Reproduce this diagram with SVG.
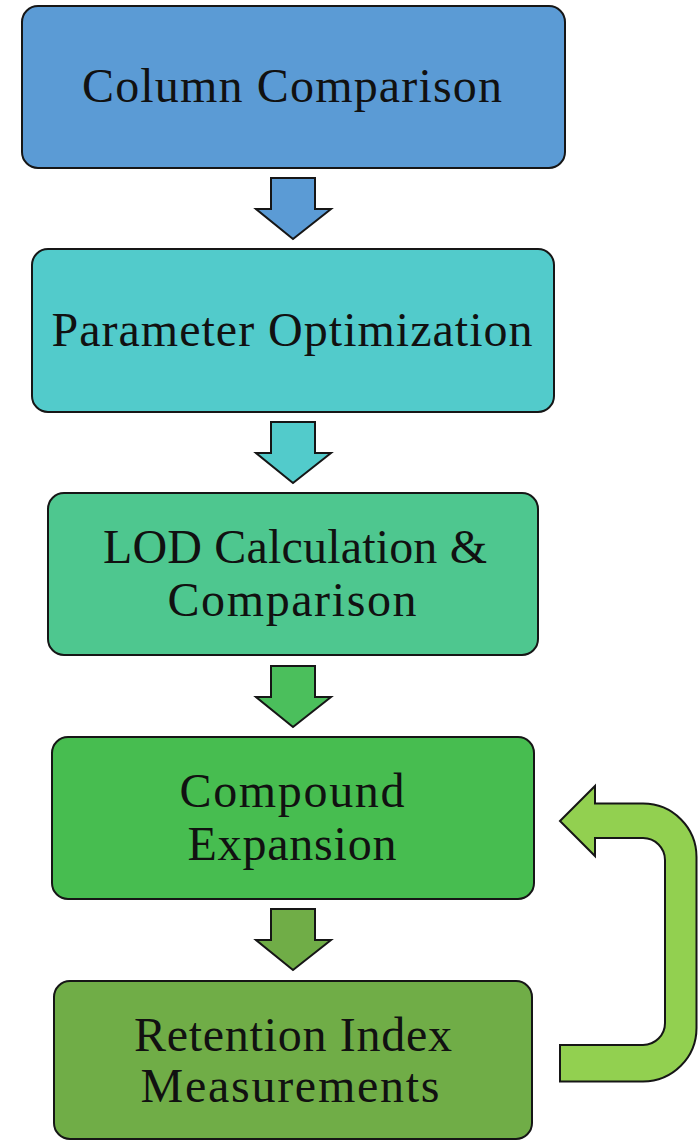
<svg xmlns="http://www.w3.org/2000/svg" width="699" height="1140" viewBox="0 0 699 1140">
  <style>
    .box { stroke: #161616; stroke-width: 2; }
    .arrow { stroke: #161616; stroke-width: 2; stroke-linejoin: miter; }
    .label { font-family: "Liberation Serif", "Times New Roman", serif; font-size: 48px; fill: #111111; text-anchor: middle; }
  </style>
  <rect width="699" height="1140" fill="#ffffff"/>

  <!-- connectors: block arrows between steps and the loop-back arrow -->
  <g id="connectors">
    <path class="arrow" fill="#5B9BD5" d="M271 178 L315 178 L315 209 L331 209 L293 239 L256 209 L271 209 Z"/>
    <path class="arrow" fill="#52CBCB" d="M271 422 L315 422 L315 453 L331 453 L293 483 L256 453 L271 453 Z"/>
    <path class="arrow" fill="#4BBF5C" d="M271 666 L315 666 L315 697 L331 697 L293 727 L256 697 L271 697 Z"/>
    <path class="arrow" fill="#70AD47" d="M271 909 L315 909 L315 940 L331 940 L293 970 L256 940 L271 940 Z"/>
    <path id="loop-back" class="arrow" fill="#92D050" d="M560 821 L595 786 L595 803.5 L643 803.5 A53.5 53.5 0 0 1 696.5 857 L696.5 1028 A53.5 53.5 0 0 1 643 1081.5 L560 1081.5 L560 1045 L643 1045 A22 22 0 0 0 665 1023 L665 860 A22 22 0 0 0 643 838 L595 838 L595 856 Z"/>
  </g>

  <g id="column-comparison">
    <rect class="box" x="22" y="6" width="543" height="162" rx="16" fill="#5B9BD5"/>
    <text class="label" x="292" y="102" textLength="420" lengthAdjust="spacing">Column Comparison</text>
  </g>

  <g id="parameter-optimization">
    <rect class="box" x="32" y="249" width="522" height="163" rx="16" fill="#52CBCB"/>
    <text class="label" x="292" y="346" textLength="481" lengthAdjust="spacing">Parameter Optimization</text>
  </g>

  <g id="lod-calculation">
    <rect class="box" x="48" y="493" width="490" height="162" rx="16" fill="#4EC78F"/>
    <text class="label" x="295" y="563" textLength="384" lengthAdjust="spacing">LOD Calculation &amp;</text>
    <text class="label" x="292" y="616" textLength="249" lengthAdjust="spacing">Comparison</text>
  </g>

  <g id="compound-expansion">
    <rect class="box" x="52" y="737" width="482" height="162" rx="16" fill="#47BD50"/>
    <text class="label" x="292" y="807" textLength="225" lengthAdjust="spacing">Compound</text>
    <text class="label" x="292" y="860" textLength="209" lengthAdjust="spacing">Expansion</text>
  </g>

  <g id="retention-index">
    <rect class="box" x="54" y="981" width="478" height="158" rx="16" fill="#70AD47"/>
    <text class="label" x="293" y="1051" textLength="318" lengthAdjust="spacing">Retention Index</text>
    <text class="label" x="290" y="1102" textLength="299" lengthAdjust="spacing">Measurements</text>
  </g>
</svg>
